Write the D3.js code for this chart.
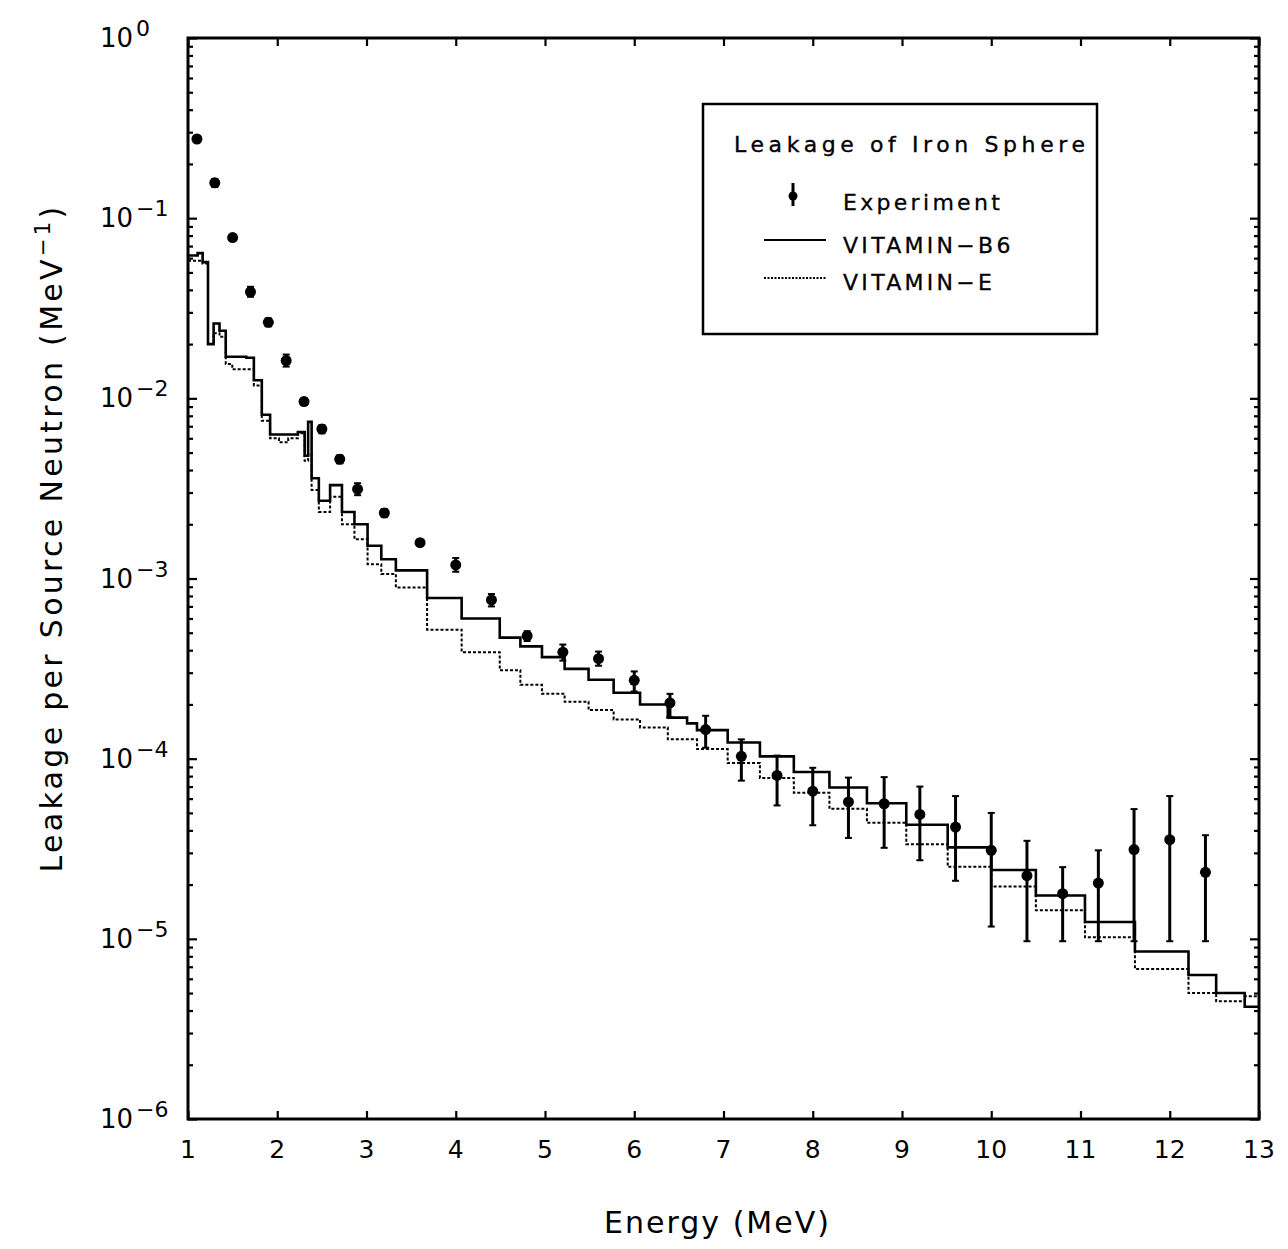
<!DOCTYPE html>
<html>
<head>
<meta charset="utf-8">
<script src="https://cdn.jsdelivr.net/npm/d3@7"></script>
<style>
  html, body { margin: 0; padding: 0; background: #fff; }
  svg { display: block; font-family: "DejaVu Sans", sans-serif; }
</style>
</head>
<body>
<svg id="chart" width="1288" height="1249"></svg>
<script>
// ---------- DATA ----------
const xTicks = [1,2,3,4,5,6,7,8,9,10,11,12,13];
const yDecades = [0,-1,-2,-3,-4,-5,-6];

// group boundaries (MeV) of the calculated histograms
const binEdges = [1.0, 1.108, 1.164, 1.224, 1.287, 1.353, 1.423, 1.496, 1.572, 1.653, 1.738, 1.827, 1.92, 2.019, 2.123, 2.231, 2.307, 2.346, 2.385, 2.466, 2.592, 2.725, 2.865, 3.012, 3.166, 3.329, 3.679, 4.066, 4.493, 4.724, 4.966, 5.22, 5.488, 5.769, 6.065, 6.376, 6.592, 6.703, 7.047, 7.408, 7.788, 8.187, 8.607, 9.048, 9.512, 10.0, 10.5, 11.05, 11.61, 12.21, 12.52, 12.84, 13.0];

const vitaminB6 = [0.062, 0.064, 0.057, 0.020, 0.026, 0.0237, 0.017, 0.017, 0.017, 0.0168, 0.0126, 0.0081, 0.0063, 0.0063, 0.0063, 0.0065, 0.0048, 0.0074, 0.0036, 0.0027, 0.0033, 0.00234, 0.0020, 0.00152, 0.00128, 0.00111, 0.00078, 0.0006, 0.00047, 0.00042, 0.000366, 0.000315, 0.000274, 0.000232, 0.0002, 0.000169, 0.000157, 0.000144, 0.000123, 0.000103, 0.0000843, 0.0000692, 0.0000566, 0.000043, 0.0000322, 0.0000241, 0.0000174, 0.0000124, 0.0000085, 0.0000063, 0.0000050, 0.0000042];

const vitaminE = [0.058, 0.058, 0.056, 0.020, 0.023, 0.022, 0.0155, 0.0145, 0.0145, 0.0145, 0.0118, 0.0075, 0.0060, 0.0057, 0.0060, 0.0064, 0.0045, 0.0049, 0.0031, 0.00234, 0.00284, 0.0020, 0.00165, 0.0012, 0.00106, 0.00089, 0.00052, 0.00039, 0.00031, 0.000257, 0.000229, 0.000207, 0.000186, 0.000165, 0.000149, 0.000128, 0.000128, 0.000113, 0.0000945, 0.0000782, 0.0000646, 0.0000527, 0.0000441, 0.0000335, 0.0000251, 0.0000195, 0.0000144, 0.0000102, 0.0000068, 0.0000050, 0.0000045, 0.0000048];

const expEnergy = [1.1, 1.3, 1.5, 1.7, 1.9, 2.1, 2.3, 2.5, 2.7, 2.9, 3.2, 3.6, 4.0, 4.4, 4.8, 5.2, 5.6, 6.0, 6.4, 6.8, 7.2, 7.6, 8.0, 8.4, 8.8, 9.2, 9.6, 10.0, 10.4, 10.8, 11.2, 11.6, 12.0, 12.4];
const expValue = [0.275, 0.157, 0.078, 0.039, 0.0264, 0.0162, 0.0096, 0.00675, 0.00459, 0.00313, 0.00231, 0.00158, 0.00119, 0.00076, 0.00048, 0.00039, 0.000359, 0.000272, 0.000204, 0.000145, 0.000103, 0.0000807, 0.000066, 0.0000575, 0.0000562, 0.000049, 0.0000417, 0.000031, 0.0000224, 0.0000178, 0.0000204, 0.0000313, 0.0000355, 0.0000234];
const expLow = [0.268, 0.149, 0.076, 0.0366, 0.0251, 0.0150, 0.0092, 0.0064, 0.00436, 0.0029, 0.0022, 0.00154, 0.00109, 0.0007, 0.00045, 0.00035, 0.000328, 0.000236, 0.00017, 0.000115, 0.0000755, 0.000055, 0.0000427, 0.0000363, 0.000032, 0.0000273, 0.000021, 0.0000117, 0.0000097, 0.0000097, 0.0000097, 0.0000097, 0.0000097, 0.0000097];
const expHigh = [0.282, 0.165, 0.080, 0.0416, 0.0278, 0.0175, 0.0100, 0.0071, 0.00483, 0.00338, 0.00243, 0.00162, 0.0013, 0.00082, 0.00051, 0.00043, 0.000393, 0.000305, 0.000229, 0.000173, 0.000128, 0.000104, 0.000089, 0.0000785, 0.000079, 0.00007, 0.000062, 0.00005, 0.000035, 0.000025, 0.000031, 0.0000525, 0.000062, 0.0000376];

const legendTitle = "Leakage of Iron Sphere";
const seriesNames = ["Experiment", "VITAMIN\u2212B6", "VITAMIN\u2212E"];
const xTitle = "Energy (MeV)";
const yTitle = "Leakage per Source Neutron (MeV";

// ---------- LAYOUT ----------
const svg = d3.select("#chart");
const L = 188, R = 1259, T = 38, B = 1119;
const x = d3.scaleLinear().domain([1, 13]).range([L, R]);
const y = d3.scaleLog().domain([1e-6, 1]).range([B, T]);

// minor tick values for log axis
const minorVals = [];
for (let e = -6; e < 0; e++) for (let m = 2; m <= 9; m++) minorVals.push(m * Math.pow(10, e));
const majorVals = yDecades.map(d => Math.pow(10, d));

// axes via d3 (ticks pointing inward)
svg.append("g").attr("transform", `translate(0,${B})`)
  .call(d3.axisBottom(x).tickValues(xTicks).tickSizeInner(-8).tickSizeOuter(0).tickFormat(""))
  .call(g => g.select(".domain").remove());
svg.append("g").attr("transform", `translate(0,${T})`)
  .call(d3.axisTop(x).tickValues(xTicks).tickSizeInner(-8).tickSizeOuter(0).tickFormat(""))
  .call(g => g.select(".domain").remove());
[["left", L, d3.axisLeft], ["right", R, d3.axisRight]].forEach(([side, pos, ax]) => {
  svg.append("g").attr("transform", `translate(${pos},0)`)
    .call(ax(y).tickValues(majorVals).tickSizeInner(-9).tickSizeOuter(0).tickFormat(""))
    .call(g => g.select(".domain").remove());
  svg.append("g").attr("transform", `translate(${pos},0)`)
    .call(ax(y).tickValues(minorVals).tickSizeInner(-5).tickSizeOuter(0).tickFormat(""))
    .call(g => g.select(".domain").remove());
});
svg.selectAll(".tick line").attr("stroke", "#000").attr("stroke-width", 2.2);

// frame
svg.append("rect").attr("x", L).attr("y", T).attr("width", R - L).attr("height", B - T)
  .attr("fill", "none").attr("stroke", "#000").attr("stroke-width", 3);

// x tick labels
svg.append("g").selectAll("text").data(xTicks).join("text")
  .attr("x", d => x(d)).attr("y", B + 39)
  .attr("text-anchor", "middle").attr("font-size", 25).attr("fill", "#000")
  .text(d => d);

// y tick labels 10^n
const yl = svg.append("g").selectAll("text").data(yDecades).join("text")
  .attr("x", 100).attr("y", d => y(Math.pow(10, d)) + 9)
  .attr("font-size", 26).attr("fill", "#000");
yl.append("tspan").text("10");
yl.append("tspan").attr("dx", 3).attr("dy", -11).attr("font-size", 22)
  .text(d => d === 0 ? "0" : "\u2212" + (-d));

// axis titles
svg.append("text").attr("x", (L + R) / 2 - 6).attr("y", 1233)
  .attr("text-anchor", "middle").attr("font-size", 30).attr("letter-spacing", 2)
  .attr("fill", "#000").text(xTitle);
const yt = svg.append("text")
  .attr("transform", `translate(62,538) rotate(-90)`)
  .attr("text-anchor", "middle").attr("font-size", 30).attr("letter-spacing", 3.3)
  .attr("fill", "#000");
yt.append("tspan").text(yTitle);
yt.append("tspan").attr("dy", -12).attr("font-size", 21).text("\u22121");
yt.append("tspan").attr("dy", 12).text(")");

// step histograms
const stepLine = d3.line()
  .x(d => x(d[0])).y(d => y(d[1])).curve(d3.curveStepAfter);
function stepPoints(vals) {
  const pts = vals.map((v, i) => [binEdges[i], v]);
  pts.push([binEdges[binEdges.length - 1], vals[vals.length - 1]]);
  return pts;
}
const plot = svg.append("g");
plot.append("path").attr("d", stepLine(stepPoints(vitaminE)))
  .attr("fill", "none").attr("stroke", "#000").attr("stroke-width", 2)
  .attr("stroke-dasharray", "3,2");
plot.append("path").attr("d", stepLine(stepPoints(vitaminB6)))
  .attr("fill", "none").attr("stroke", "#000").attr("stroke-width", 2.6);

// experiment with error bars
const expData = expEnergy.map((e, i) => ({ e, v: expValue[i], lo: expLow[i], hi: expHigh[i] }));
const eg = plot.append("g").selectAll("g").data(expData).join("g");
eg.append("line").attr("x1", d => x(d.e)).attr("x2", d => x(d.e))
  .attr("y1", d => y(d.lo)).attr("y2", d => y(d.hi))
  .attr("stroke", "#000").attr("stroke-width", 3);
eg.append("line").attr("x1", d => x(d.e) - 3.5).attr("x2", d => x(d.e) + 3.5)
  .attr("y1", d => y(d.lo)).attr("y2", d => y(d.lo))
  .attr("stroke", "#000").attr("stroke-width", 2);
eg.append("line").attr("x1", d => x(d.e) - 3.5).attr("x2", d => x(d.e) + 3.5)
  .attr("y1", d => y(d.hi)).attr("y2", d => y(d.hi))
  .attr("stroke", "#000").attr("stroke-width", 2);
eg.append("circle").attr("cx", d => x(d.e)).attr("cy", d => y(d.v)).attr("r", 5.5)
  .attr("fill", "#000");

// legend
const lg = svg.append("g");
lg.append("rect").attr("x", 703).attr("y", 104).attr("width", 394).attr("height", 230)
  .attr("fill", "#fff").attr("stroke", "#000").attr("stroke-width", 2.5);
lg.append("text").attr("x", 734).attr("y", 152).attr("font-size", 22).attr("letter-spacing", 4.6)
  .attr("fill", "#000").attr("stroke", "#000").attr("stroke-width", 0.35).text(legendTitle);
// experiment symbol
lg.append("line").attr("x1", 793).attr("x2", 793).attr("y1", 183).attr("y2", 206)
  .attr("stroke", "#000").attr("stroke-width", 3);
lg.append("circle").attr("cx", 793).attr("cy", 196).attr("r", 4.5).attr("fill", "#000");
lg.append("line").attr("x1", 764).attr("x2", 826).attr("y1", 240).attr("y2", 240)
  .attr("stroke", "#000").attr("stroke-width", 2.2);
lg.append("line").attr("x1", 764).attr("x2", 826).attr("y1", 278).attr("y2", 278)
  .attr("stroke", "#000").attr("stroke-width", 1.8).attr("stroke-dasharray", "2,1.5");
lg.selectAll("text.entry").data(seriesNames).join("text").attr("class", "entry")
  .attr("x", 843).attr("y", (d, i) => [210, 253, 290][i])
  .attr("font-size", 22).attr("letter-spacing", 3.3).attr("fill", "#000")
  .attr("stroke", "#000").attr("stroke-width", 0.3)
  .text(d => d);
</script>
</body>
</html>
